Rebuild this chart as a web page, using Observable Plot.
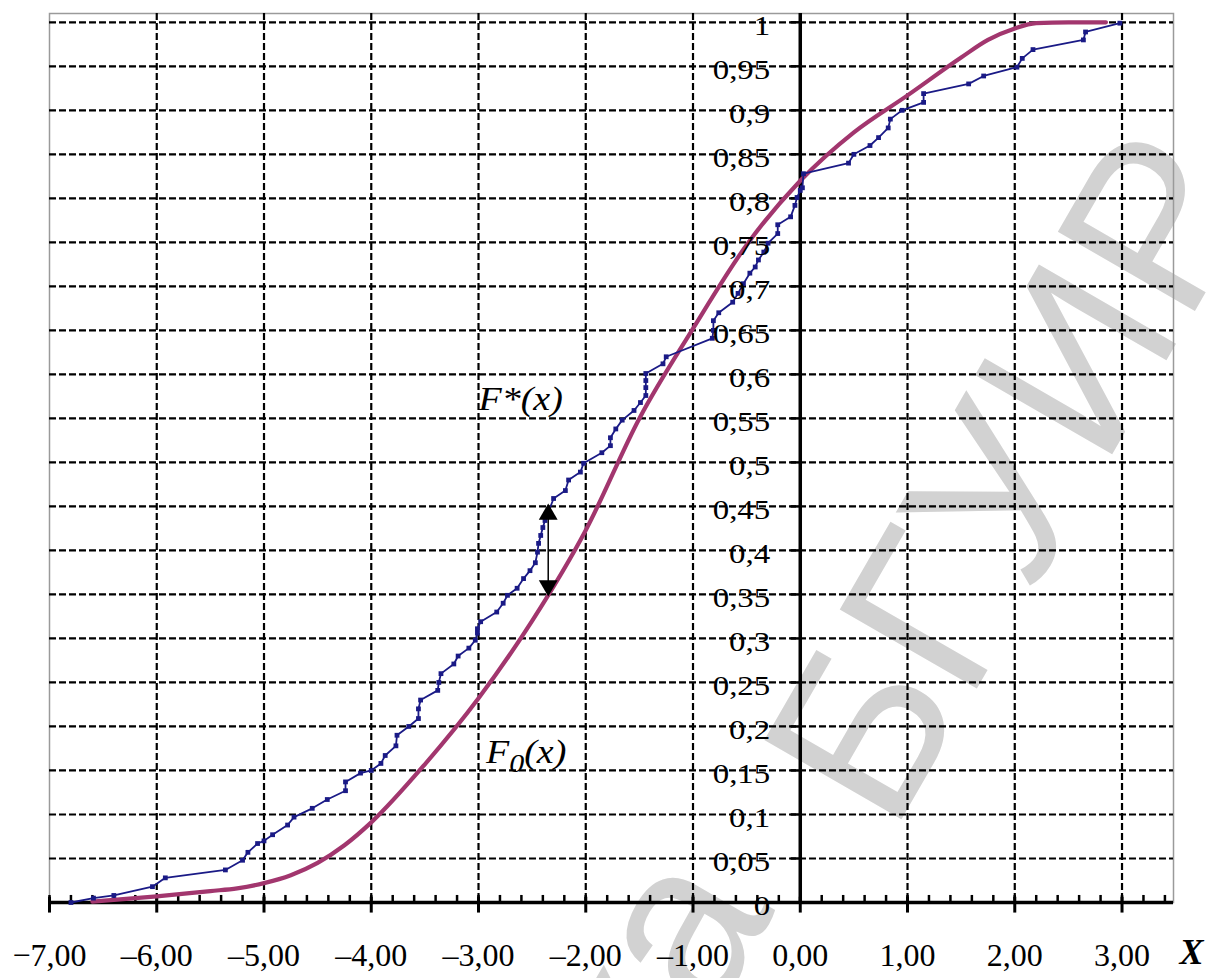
<!DOCTYPE html>
<html><head><meta charset="utf-8">
<script src="https://cdn.jsdelivr.net/npm/d3@7"></script>
<script src="https://cdn.jsdelivr.net/npm/@observablehq/plot@0.6"></script>
<style>body{margin:0;background:#fff} svg{display:block;background:#fff}</style>
</head><body><div id="chart"></div>
<script>
// Empirical distribution function F*(x)
const fStarX = [-6.80,-6.59,-6.40,-6.04,-5.92,-5.36,-5.20,-5.15,-5.06,-5.00,-4.92,-4.78,-4.72,-4.55,-4.41,-4.24,-4.24,-4.10,-4.00,-3.91,
  -3.87,-3.77,-3.76,-3.65,-3.56,-3.56,-3.54,-3.38,-3.37,-3.35,-3.23,-3.19,-3.09,-3.03,-3.01,-3.01,-2.98,-2.83,-2.77,-2.73,
  -2.64,-2.58,-2.52,-2.47,-2.45,-2.44,-2.42,-2.40,-2.38,-2.35,-2.30,-2.19,-2.16,-2.05,-2.02,-1.85,-1.77,-1.77,-1.72,-1.66,
  -1.55,-1.49,-1.44,-1.44,-1.44,-1.44,-1.28,-1.25,-0.82,-0.81,-0.81,-0.76,-0.63,-0.58,-0.53,-0.47,-0.42,-0.39,-0.34,-0.30,
  -0.21,-0.21,-0.09,-0.05,-0.03,0.00,0.02,0.03,0.45,0.50,0.65,0.73,0.82,0.84,0.95,1.15,1.15,1.57,1.71,2.02,
  2.07,2.17,2.64,2.66,2.98];
const fStarY = [0.000,0.005,0.008,0.018,0.028,0.037,0.048,0.057,0.067,0.070,0.077,0.088,0.097,0.107,0.117,0.127,0.137,0.147,0.150,0.158,
  0.167,0.178,0.190,0.200,0.209,0.220,0.230,0.241,0.250,0.260,0.271,0.280,0.289,0.298,0.306,0.311,0.319,0.330,0.340,0.349,
  0.357,0.368,0.377,0.386,0.398,0.408,0.417,0.426,0.434,0.443,0.459,0.468,0.480,0.489,0.499,0.511,0.519,0.528,0.538,0.548,
  0.559,0.568,0.576,0.585,0.593,0.601,0.612,0.620,0.641,0.650,0.661,0.670,0.682,0.692,0.703,0.715,0.722,0.730,0.739,0.749,
  0.760,0.770,0.779,0.792,0.801,0.809,0.812,0.828,0.840,0.850,0.860,0.869,0.880,0.890,0.900,0.909,0.919,0.930,0.939,0.949,
  0.959,0.969,0.980,0.989,0.999];

// Theoretical distribution function F0(x)
const f0X = [-6.60,-6.00,-5.50,-5.25,-5.00,-4.75,-4.50,-4.25,-4.00,-3.50,-3.00,-2.50,-2.00,-1.50,-1.00,-0.50,0.00,0.50,1.00,1.50,1.75,2.00,2.20,2.50,2.85];
const f0Y = [0.001,0.007,0.013,0.016,0.022,0.031,0.045,0.065,0.091,0.157,0.232,0.320,0.423,0.550,0.652,0.747,0.820,0.875,0.917,0.960,0.980,0.993,0.999,1.000,1.000];

const yTicks = [0,0.05,0.1,0.15,0.2,0.25,0.3,0.35,0.4,0.45,0.5,0.55,0.6,0.65,0.7,0.75,0.8,0.85,0.9,0.95,1];
const yTickLabels = ["0","0,05","0,1","0,15","0,2","0,25","0,3","0,35","0,4","0,45","0,5","0,55","0,6","0,65","0,7","0,75","0,8","0,85","0,9","0,95","1"];
const xTicks = [-7,-6,-5,-4,-3,-2,-1,0,1,2,3];
const xTickLabels = ["−7,00","–6,00","–5,00","–4,00","–3,00","–2,00","–1,00","0,00","1,00","2,00","3,00"];
const xMinorTicks = d3.range(-7, 3.45, 0.2);
const gridX = [-6,-5,-4,-3,-2,-1,1,2,3];
const gridY = yTicks.filter(v => v > 0);

const arrowX = [-2.35];
const arrowTop = [0.449];
const arrowBottom = [0.352];

const seriesLabels = ["F*(x)", "F0(x)"];
const seriesLabelX = [-3.0, -2.93];
const seriesLabelY = [0.559, 0.159];

// library watermark
const watermarkFirst = ["Библиотека"];
const watermarkSecond = ["БГУИР"];
const watermarkFirstXY = [-0.23, -0.009];
const watermarkSecondXY = [0.856, 0.076];

const fStar = fStarX.map((x, i) => ({x, y: fStarY[i]}));
const f0 = f0X.map((x, i) => ({x, y: f0Y[i]}));
const serif = "Liberation Serif, Times New Roman, serif";
const navy = "#1a1a86";
const magenta = "#a2366e";
const wmStyle = {rotate: -60, lineAnchor: "bottom", fontSize: 230, fontFamily: "Liberation Sans, Arial, sans-serif", fill: "#d2d2d2"};

const chart = Plot.plot({
  width: 1215, height: 978,
  marginLeft: 49, marginRight: 42, marginTop: 13, marginBottom: 76,
  x: {domain: [-7, 3.48], axis: null},
  y: {domain: [0, 1.01], axis: null},
  style: {background: "#fff", overflow: "visible"},
  marks: [
    Plot.text(watermarkFirst, {x: () => watermarkFirstXY[0], y: () => watermarkFirstXY[1], text: d => d, textAnchor: "end", ...wmStyle}),
    Plot.text(watermarkSecond, {x: () => watermarkSecondXY[0], y: () => watermarkSecondXY[1], text: d => d, textAnchor: "start", ...wmStyle}),
    Plot.frame({stroke: "#9a9a9a", strokeWidth: 1.5}),
    Plot.ruleY(gridY, {stroke: "#000", strokeWidth: 2.2, strokeDasharray: "7,3"}),
    Plot.ruleX(gridX, {stroke: "#000", strokeWidth: 2.2, strokeDasharray: "7,3"}),
    Plot.ruleY([0], {stroke: "#000", strokeWidth: 3.5}),
    Plot.ruleX([0], {stroke: "#000", strokeWidth: 3.5}),
    Plot.ruleY(yTicks, {y: d => d, x1: -0.085, x2: 0, stroke: "#000", strokeWidth: 2.5}),
    Plot.ruleX(xTicks, {x: d => d, y1: -0.012, y2: 0.006, stroke: "#000", strokeWidth: 3}),
    Plot.ruleX(xMinorTicks, {x: d => d, y1: 0, y2: 0.008, stroke: "#000", strokeWidth: 2.5}),
    Plot.line(f0, {x: "x", y: "y", stroke: magenta, strokeWidth: 4.2, curve: "monotone-x"}),
    Plot.line(fStar, {x: "x", y: "y", stroke: navy, strokeWidth: 1.8}),
    Plot.dot(fStar, {x: "x", y: "y", symbol: "square", r: 2.7, fill: navy}),
    Plot.ruleX(arrowX, {x: d => d, y1: (d, i) => arrowBottom[i], y2: (d, i) => arrowTop[i], stroke: "#000", strokeWidth: 1.5}),
    Plot.dot(arrowX, {x: d => d, y: (d, i) => arrowTop[i], dy: 7, symbol: "triangle", r: 7, fill: "#000"}),
    Plot.dot(arrowX, {x: d => d, y: (d, i) => arrowBottom[i], dy: -7, symbol: "triangle", rotate: 180, r: 7, fill: "#000"}),
    Plot.text(yTicks, {x: 0, y: d => d, text: (d, i) => yTickLabels[i], dx: -30, dy: 4, textAnchor: "end",
      fontSize: 27, fontFamily: serif, fill: "#000", className: "ylab"}),
    Plot.text(xTicks, {x: d => d, y: 0, text: (d, i) => xTickLabels[i], dy: 53,
      fontSize: 32, fontFamily: serif, fill: "#000"}),
    Plot.text(["X"], {x: 3.48, y: 0, dx: 18, dy: 50, text: d => d, fontSize: 36, fontWeight: "bold", fontStyle: "italic",
      fontFamily: serif, fill: "#000"}),
    Plot.text(seriesLabels, {x: (d, i) => seriesLabelX[i], y: (d, i) => seriesLabelY[i], text: d => d, textAnchor: "start",
      lineAnchor: "bottom", fontSize: 33, fontStyle: "italic", fontFamily: serif, fill: "#000", className: "slab"})
  ]
});
document.getElementById("chart").appendChild(chart);

// subscript for F0(x)
chart.querySelectorAll("text").forEach(t => {
  if (t.textContent === "F0(x)") {
    const ns = "http://www.w3.org/2000/svg";
    while (t.firstChild) t.removeChild(t.firstChild);
    const a = document.createElementNS(ns, "tspan"); a.textContent = "F";
    const b = document.createElementNS(ns, "tspan"); b.textContent = "0"; b.setAttribute("dy", "9"); b.setAttribute("font-size", "26");
    const c = document.createElementNS(ns, "tspan"); c.textContent = "(x)"; c.setAttribute("dy", "-9");
    t.append(a, b, c);
  }
});
// horizontal stretch of the serif labels as in the scanned original
function stretch(sel, k) {
  chart.querySelectorAll(sel + " text").forEach(t => {
    const w = t.getComputedTextLength();
    t.setAttribute("textLength", (w * k).toFixed(1));
    t.setAttribute("lengthAdjust", "spacingAndGlyphs");
  });
}
stretch(".ylab", 1.22);
stretch(".slab", 1.15);
</script>
</body></html>
